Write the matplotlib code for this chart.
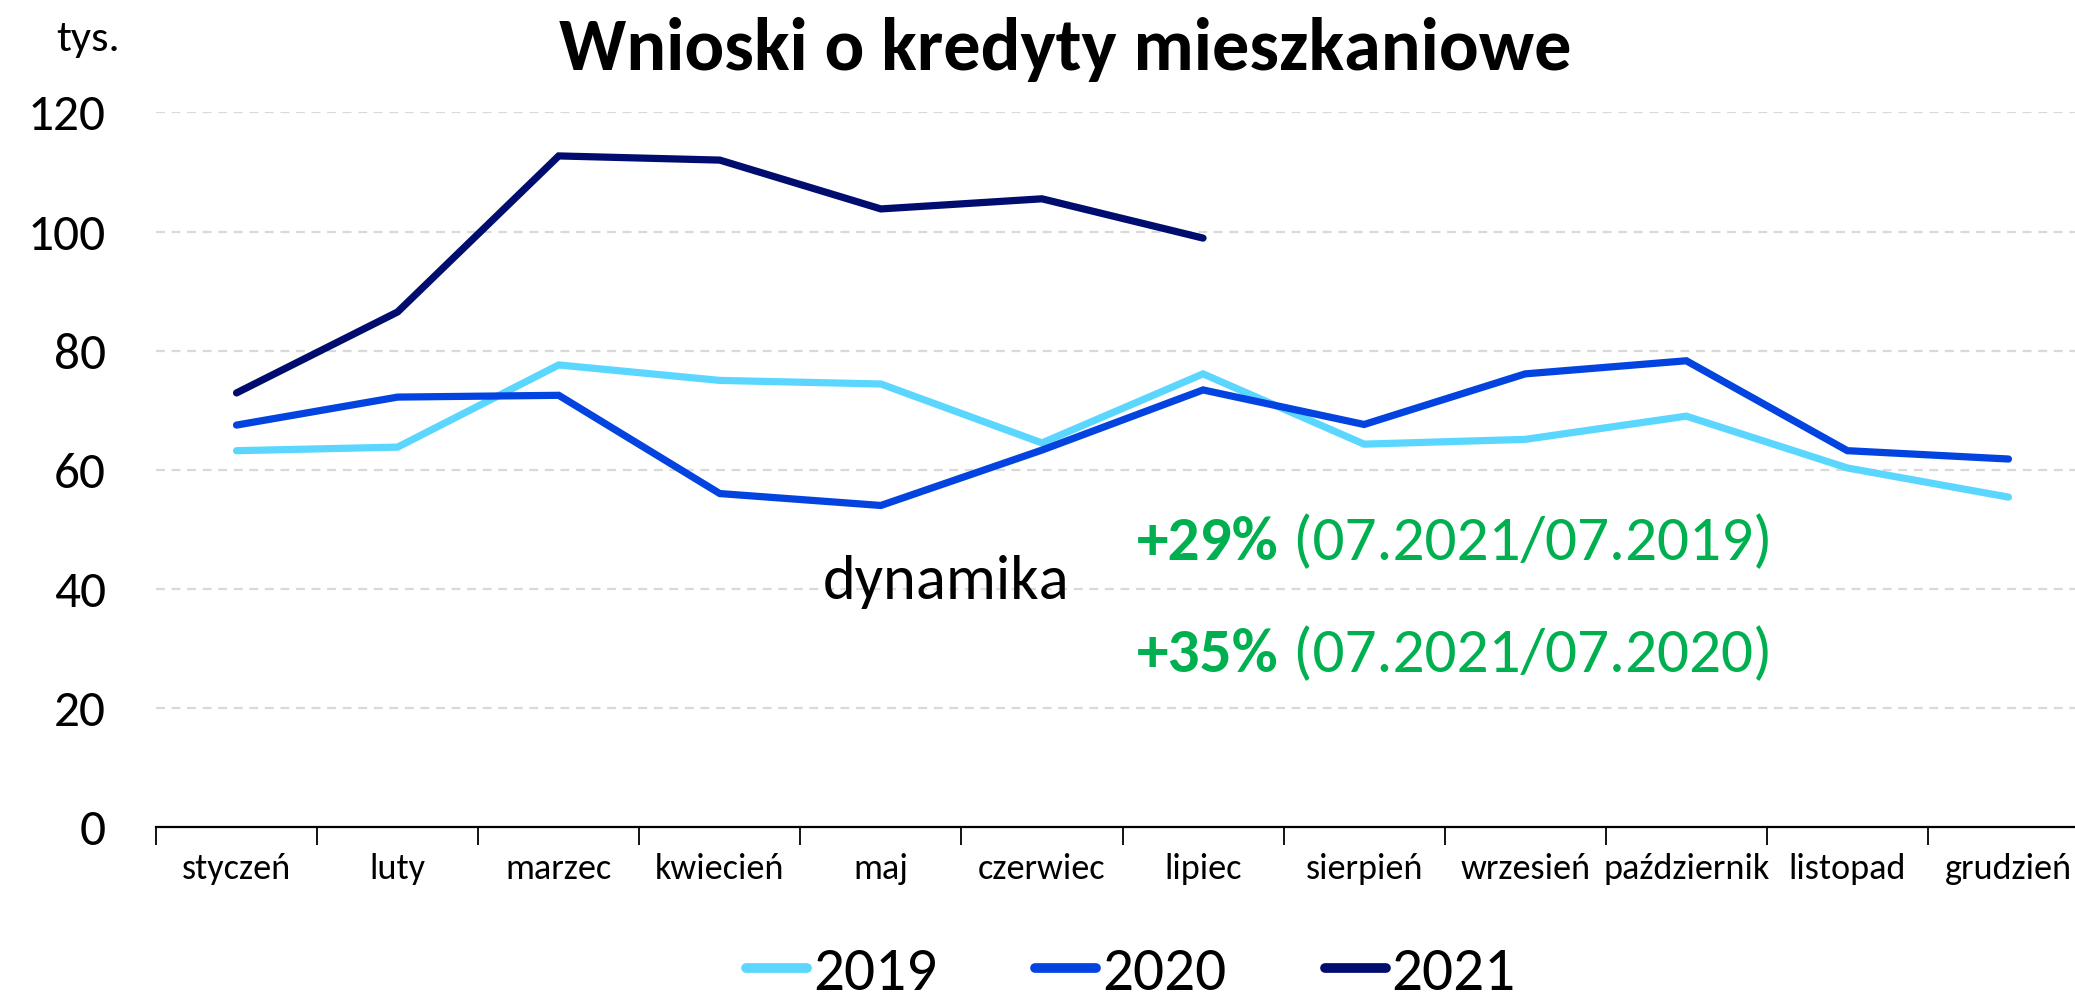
import matplotlib
matplotlib.use('Agg')
import matplotlib.pyplot as plt
import numpy as np
from matplotlib.ticker import FixedLocator

plt.rcParams['font.family'] = ['Carlito', 'Liberation Sans Narrow', 'Open Sans', 'DejaVu Sans']

months = ['styczeń', 'luty', 'marzec', 'kwiecień', 'maj', 'czerwiec', 'lipiec',
          'sierpień', 'wrzesień', 'październik', 'listopad', 'grudzień']

v2019 = [63.2, 63.8, 77.6, 75.0, 74.4, 64.5, 76.1, 64.3, 65.1, 69.0, 60.3, 55.4]
v2020 = [67.5, 72.2, 72.5, 56.0, 54.0, 63.3, 73.4, 67.6, 76.1, 78.3, 63.2, 61.8]
v2021 = [72.9, 86.5, 112.7, 112.0, 103.8, 105.5, 98.9]

yticks = [0, 20, 40, 60, 80, 100, 120]

series = [('2019', v2019, '#5BD7FF'),
          ('2020', v2020, '#0343E0'),
          ('2021', v2021, '#000C6E')]

green = '#00B050'

fig = plt.figure(figsize=(20.75, 9.97), dpi=100)
ax = fig.add_axes([156 / 2075, 0.1705, (2089 - 156) / 2075, 0.7167])

for name, vals, c in series:
    ax.plot(range(len(vals)), vals, color=c, lw=5.2, label=name,
            solid_capstyle='round', solid_joinstyle='miter')

ax.set_xlim(-0.5, len(months) - 0.5)
ax.set_ylim(0, 120)
ax.set_yticks(yticks)
ax.set_yticklabels([str(t) for t in yticks], fontsize=37)
ax.tick_params(axis='y', length=0, pad=36)

ax.set_xticks(range(len(months)))
ax.set_xticklabels(months, fontsize=26)
ax.xaxis.set_minor_locator(FixedLocator(np.arange(-0.5, len(months), 1.0)))
ax.tick_params(axis='x', which='major', length=0, pad=19)
ax.tick_params(axis='x', which='minor', length=13, width=1.3, direction='out')

for y in yticks[1:]:
    ax.axhline(y, color='#d9d9d9', lw=1.6, dashes=(4, 3), zorder=0)

for s in ['left', 'right', 'top']:
    ax.spines[s].set_visible(False)
ax.spines['bottom'].set_linewidth(1.6)

fig.text(1065 / 2075, 1 - 50 / 997, 'Wnioski o kredyty mieszkaniowe',
         fontsize=53.5, fontweight='bold', ha='center', va='center')
fig.text(56 / 2075, 1 - 40 / 997, 'tys.', fontsize=32, ha='left', va='center')

ax.text(3.64, 41.1, 'dynamika', fontsize=45, ha='left', va='center')
t1 = ax.text(5.59, 47.7, '+29%', fontsize=45.5, fontweight='bold', color=green,
             ha='left', va='center')
ax.annotate(' (07.2021/07.2019)', xy=(1, 0), xycoords=t1, fontsize=45.5,
            color=green, ha='left', va='bottom')
t2 = ax.text(5.59, 28.9, '+35%', fontsize=45.5, fontweight='bold', color=green,
             ha='left', va='center')
ax.annotate(' (07.2021/07.2020)', xy=(1, 0), xycoords=t2, fontsize=45.5,
            color=green, ha='left', va='bottom')

leg = fig.legend(loc='center', bbox_to_anchor=(1131 / 2075, 1 - 973 / 997),
                 ncol=3, frameon=False, fontsize=44, handlelength=1.0,
                 handletextpad=0.1, columnspacing=1.6)
for h in leg.get_lines():
    h.set_linewidth(7)

fig.savefig('out.png', dpi=100)
